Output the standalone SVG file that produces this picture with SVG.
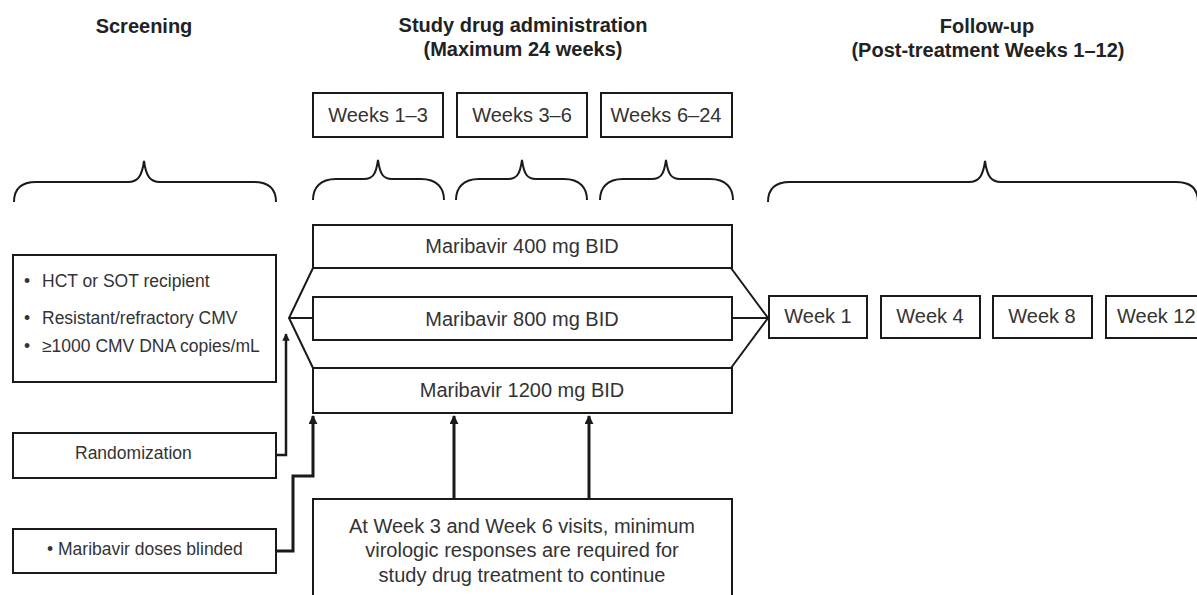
<svg xmlns="http://www.w3.org/2000/svg" width="1197" height="595" viewBox="0 0 1197 595">
<defs>
<style>
.box{fill:#fff;stroke:#1a1a1a;stroke-width:2}
.t{font-family:"Liberation Sans",Arial,sans-serif;fill:#333;font-size:20px}
.tc{text-anchor:middle}
.h{font-family:"Liberation Sans",Arial,sans-serif;fill:#222;font-size:20px;font-weight:bold;text-anchor:middle}
.s{font-family:"Liberation Sans",Arial,sans-serif;fill:#333;font-size:17.5px}
.ln{fill:none;stroke:#1a1a1a;stroke-width:2}
.ar{fill:none;stroke:#1a1a1a;stroke-width:3}
.br{fill:none;stroke:#1a1a1a;stroke-width:2}
</style>
<marker id="ah" viewBox="0 0 10 10" refX="9" refY="5" markerWidth="3" markerHeight="3" orient="auto" markerUnits="strokeWidth">
<path d="M0,0 L10,5 L0,10 z" fill="#1a1a1a"/>
</marker>
</defs>
<rect width="1197" height="595" fill="#fff"/>

<g id="titles">
<text class="h" x="144" y="33">Screening</text>
<text class="h" x="523" y="32">Study drug administration</text>
<text class="h" x="523" y="56">(Maximum 24 weeks)</text>
<text class="h" x="987" y="33">Follow-up</text>
<text class="h" x="988" y="57">(Post-treatment Weeks 1–12)</text>
</g>

<g id="braces">
<path class="br" d="M14,202 C14,190 20,182 36,182 L128,182 C138,182 142,176 144,161 C146,176 150,182 160,182 L254,182 C270,182 276,190 276,202"/>
<path class="br" d="M313,200 C313,188 320,179 336,179 L364,179 C373,179 376,174 378,160 C380,174 383,179 392,179 L421,179 C437,179 444,188 444,200"/>
<path class="br" d="M456,200 C456,188 463,179 479,179 L508,179 C517,179 520,174 522,160 C524,174 527,179 536,179 L564,179 C580,179 587,188 587,200"/>
<path class="br" d="M600,200 C600,188 607,179 623,179 L652,179 C661,179 664,174 666,160 C668,174 671,179 680,179 L710,179 C726,179 733,188 733,200"/>
<path class="br" d="M768,202 C768,190 774,182 790,182 L969,182 C979,182 983,176 985,161 C987,176 991,182 1001,182 L1176,182 C1192,182 1198,190 1198,202"/>
</g>

<g id="week-boxes">
<g id="w13"><rect class="box" x="313" y="93" width="130" height="44"/><text class="t tc" x="378" y="122">Weeks 1–3</text></g>
<g id="w36"><rect class="box" x="457" y="93" width="130" height="44"/><text class="t tc" x="522" y="122">Weeks 3–6</text></g>
<g id="w624"><rect class="box" x="601" y="93" width="131" height="44"/><text class="t tc" x="666" y="122">Weeks 6–24</text></g>
</g>

<g id="connectors">
<polyline class="ln" points="313,268 289,318 313,368"/>
<line class="ln" x1="289" y1="318" x2="313" y2="318"/>
<polyline class="ln" points="731,268 768,318 731,368"/>
<line class="ln" x1="731" y1="318" x2="768" y2="318"/>
<polyline class="ar" style="stroke-width:2.5" points="276,455 286,455 286,334" marker-end="url(#ah)"/>
<polyline class="ar" points="276,551 293,551 293,476 313,476 313,416" marker-end="url(#ah)"/>
<line class="ar" x1="454" y1="499" x2="454" y2="416" marker-end="url(#ah)"/>
<line class="ar" x1="589" y1="499" x2="589" y2="416" marker-end="url(#ah)"/>
</g>

<g id="dose400"><rect class="box" x="313" y="225" width="419" height="43"/><text class="t tc" x="522" y="253">Maribavir 400 mg BID</text></g>
<g id="dose800"><rect class="box" x="313" y="297" width="419" height="43"/><text class="t tc" x="522" y="326">Maribavir 800 mg BID</text></g>
<g id="dose1200"><rect class="box" x="313" y="368" width="419" height="45"/><text class="t tc" x="522" y="397">Maribavir 1200 mg BID</text></g>

<g id="criteria">
<rect class="box" x="13" y="255" width="263" height="127"/>
<text class="s" x="24" y="287">•</text><text class="s" x="42" y="287">HCT or SOT recipient</text>
<text class="s" x="24" y="324">•</text><text class="s" x="42" y="324">Resistant/refractory CMV</text>
<text class="s" x="24" y="352">•</text><text class="s" x="42" y="352">≥1000 CMV DNA copies/mL</text>
</g>

<g id="randomization">
<rect class="box" x="13" y="433" width="263" height="45"/>
<text class="s" x="75" y="459">Randomization</text>
</g>

<g id="blinded">
<rect class="box" x="13" y="529" width="263" height="44"/>
<text class="s" x="47" y="555">• Maribavir doses blinded</text>
</g>

<g id="response">
<rect class="box" x="313" y="499" width="419" height="110"/>
<text class="t tc" x="522" y="533">At Week 3 and Week 6 visits, minimum</text>
<text class="t tc" x="522" y="557">virologic responses are required for</text>
<text class="t tc" x="522" y="582">study drug treatment to continue</text>
</g>

<g id="follow-up">
<g id="fw1"><rect class="box" x="769" y="296" width="98" height="42"/><text class="t tc" x="818" y="323">Week 1</text></g>
<g id="fw4"><rect class="box" x="881" y="296" width="99" height="42"/><text class="t tc" x="930" y="323">Week 4</text></g>
<g id="fw8"><rect class="box" x="993" y="296" width="99" height="42"/><text class="t tc" x="1042" y="323">Week 8</text></g>
<g id="fw12"><rect class="box" x="1106" y="296" width="100" height="42"/><text class="t" x="1117" y="323">Week 12</text></g>
</g>
</svg>
